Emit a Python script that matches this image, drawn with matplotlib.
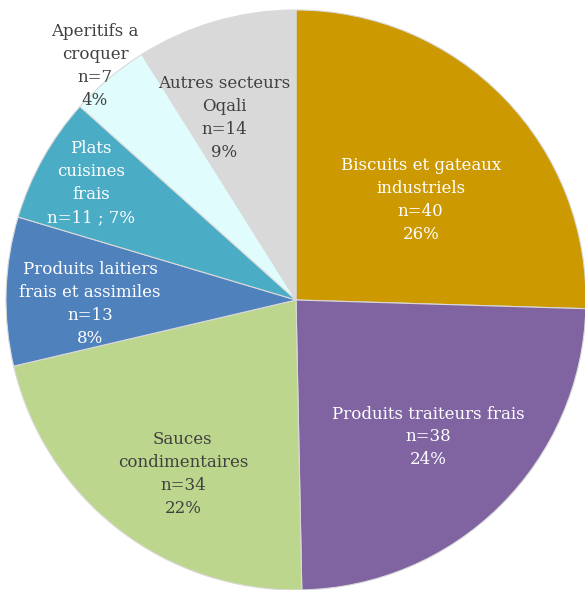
import matplotlib

matplotlib.use("Agg")
import matplotlib.pyplot as plt

# data, clockwise from 12 o'clock
sectors = [
    "Biscuits et gateaux\nindustriels",
    "Produits traiteurs frais",
    "Sauces\ncondimentaires",
    "Produits laitiers\nfrais et assimiles",
    "Plats\ncuisines\nfrais",
    "Aperitifs a\ncroquer",
    "Autres secteurs\nOqali",
]
counts = [40, 38, 34, 13, 11, 7, 14]
shares = [26, 24, 22, 8, 7, 4, 9]

colors = ["#CC9900", "#8064A2", "#BDD68E", "#4F81BD", "#4BACC6", "#E0FCFC", "#D9D9D9"]
text_colors = ["white", "white", "#404040", "white", "white", "#404040", "#404040"]
label_xy = [(0.43, 0.345), (0.455, -0.472), (-0.39, -0.60), (-0.71, -0.014),
            (-0.707, 0.403), (-0.693, 0.807), (-0.248, 0.628)]

plt.rcParams["font.family"] = ["DejaVu Serif"]

W, H = 585, 590
fig = plt.figure(figsize=(W / 100, H / 100), dpi=100)
cx, cy, r = 296, 290, 290  # pixels, from bottom-left
ax = fig.add_axes([(cx - r) / W, (cy - r) / H, 2 * r / W, 2 * r / H])

ax.pie(counts, colors=colors, startangle=90, counterclock=False, radius=1.0,
       wedgeprops=dict(edgecolor="#D9D9D9", linewidth=0.8))
ax.set_xlim(-1, 1)
ax.set_ylim(-1, 1)
ax.set_aspect("equal")
ax.axis("off")

for name, n, pct, (x, y), tc in zip(sectors, counts, shares, label_xy, text_colors):
    if name.startswith("Plats"):
        txt = f"{name}\nn={n} ; {pct}%"
    else:
        txt = f"{name}\nn={n}\n{pct}%"
    ax.text(x, y, txt, ha="center", va="center", color=tc, fontsize=12,
            linespacing=1.45, clip_on=False)

fig.savefig("out.png", dpi=100)
